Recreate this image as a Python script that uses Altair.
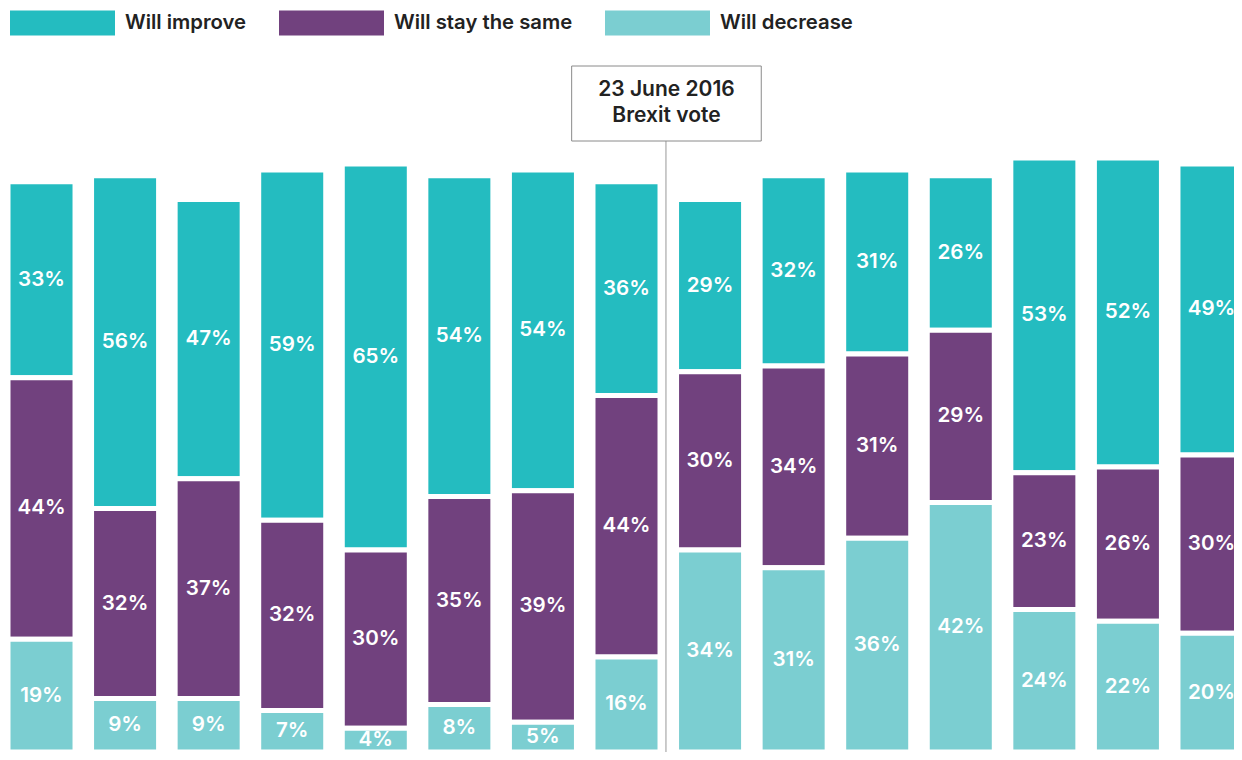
import altair as alt
import pandas as pd

# ---- data ----
periods = [f"Wave {i}" for i in range(1, 16)]
improve = [33, 56, 47, 59, 65, 54, 54, 36, 29, 32, 31, 26, 53, 52, 49]
same = [44, 32, 37, 32, 30, 35, 39, 44, 30, 34, 31, 29, 23, 26, 30]
decrease = [19, 9, 9, 7, 4, 8, 5, 16, 34, 31, 36, 42, 24, 22, 20]

categories = ["Will improve", "Will stay the same", "Will decrease"]
colors = ["#24BCC0", "#71417E", "#7BCED1"]
stack_order = {"Will decrease": 0, "Will stay the same": 1, "Will improve": 2}

annotation_period = ["Wave 9"]
annotation_label = ["23 June 2016\nBrexit vote"]

FONT = "Inter"
PLOT_H = 594

rows = []
for p, a, b, c in zip(periods, improve, same, decrease):
    for cat, v in zip(categories, [a, b, c]):
        rows.append({"period": p, "category": cat, "value": v, "order": stack_order[cat]})
df = pd.DataFrame(rows)
ann = pd.DataFrame({"period": annotation_period, "label": annotation_label})

xscale = alt.Scale(domain=periods, paddingInner=0.198, paddingOuter=0)
yscale = alt.Scale(domain=[0, 100], nice=False, zero=True)

bars = alt.Chart(df).mark_bar(stroke="white", strokeWidth=5).encode(
    x=alt.X("period:N", scale=xscale, axis=None),
    y=alt.Y("value:Q", stack="zero", scale=yscale, axis=None),
    color=alt.Color(
        "category:N",
        scale=alt.Scale(domain=categories, range=colors),
        legend=alt.Legend(
            orient="none",
            legendX=2,
            legendY=-187.5,
            direction="horizontal",
            title=None,
            symbolType="M-1,-0.238H1V0.238H-1Z",
            symbolSize=11025,
            symbolStrokeWidth=0,
            symbolOpacity=1,
            labelFont=FONT,
            labelFontSize=20.3,
            labelFontWeight=600,
            labelColor="#222222",
            labelOffset=10,
            labelLimit=500,
            columnPadding=32,
            padding=0,
        ),
    ),
    order=alt.Order("order:Q", sort="ascending"),
)

labels = (
    alt.Chart(df)
    .transform_stack(
        stack="value",
        groupby=["period"],
        as_=["v0", "v1"],
        sort=[alt.SortField("order", order="ascending")],
    )
    .transform_calculate(mid="(datum.v0 + datum.v1) / 2", label="datum.value + '%'")
    .mark_text(font=FONT, fontSize=20.6, fontWeight=600, color="white", align="center", baseline="middle")
    .encode(
        x=alt.X("period:N", scale=xscale, axis=None, bandPosition=0.5),
        y=alt.Y("mid:Q", scale=yscale, axis=None),
        text="label:N",
    )
)

rule = alt.Chart(ann).mark_rule(color="#999999", strokeWidth=1, xOffset=-10.6).encode(
    x=alt.X("period:N", scale=xscale, axis=None, bandPosition=0),
    y=alt.value(-17),
    y2=alt.value(PLOT_H),
)

box = alt.Chart(ann).mark_rect(
    fill="white", stroke="#8a8a8a", strokeWidth=1, xOffset=-104.9, x2Offset=84.7
).encode(
    x=alt.X("period:N", scale=xscale, axis=None, bandPosition=0),
    x2=alt.X2("period:N", bandPosition=0),
    y=alt.value(-92),
    y2=alt.value(-17),
)

box_text = alt.Chart(ann).mark_text(
    font=FONT, fontSize=21, fontWeight=600, color="#222222", align="center",
    baseline="middle", lineBreak="\n", lineHeight=26, xOffset=-10.1,
).encode(
    x=alt.X("period:N", scale=xscale, axis=None, bandPosition=0),
    y=alt.value(-68),
    text="label:N",
)

chart = (
    alt.layer(bars, labels, rule, box, box_text)
    .properties(
        width=1237,
        height=PLOT_H,
        autosize=alt.AutoSizeParams(type="none"),
        padding={"left": 0, "top": 150, "right": -11, "bottom": 0},
        background="white",
    )
    .configure_view(stroke=None)
)

chart.save("out.html", embed_options={"renderer": "svg", "actions": False})
